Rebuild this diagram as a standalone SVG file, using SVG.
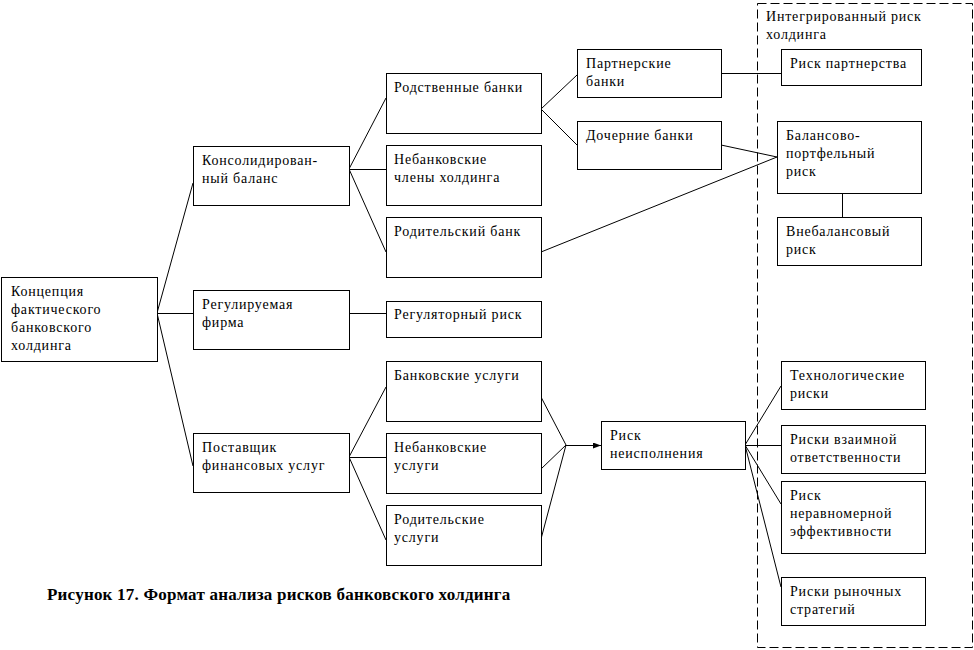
<svg xmlns="http://www.w3.org/2000/svg" width="974" height="650" viewBox="0 0 974 650">
<style>
rect.n{fill:#fff;stroke:#000;stroke-width:1}
text{font-family:"Liberation Serif","Times New Roman",serif;font-size:14px;fill:#000;letter-spacing:0.8px}
.c line,.c polyline{stroke:#000;stroke-width:1;fill:none}
.cap{font-weight:bold;font-size:17px;letter-spacing:0.22px}
</style>
<defs>
<marker id="ah" markerWidth="8" markerHeight="6" refX="8" refY="3" orient="auto" markerUnits="userSpaceOnUse">
<path d="M0,0 L8,3 L0,6 Z" fill="#000"/>
</marker>
</defs>
<rect width="974" height="650" fill="#fff"/>
<g id="group-integrated">
<rect x="757.5" y="3.5" width="215" height="644" fill="none" stroke="#000" stroke-width="1" stroke-dasharray="9,4"/>
<text x="766" y="21">Интегрированный риск</text>
<text x="766" y="39">холдинга</text>
</g>
<g class="c" id="connectors">
<line x1="157" y1="313" x2="193" y2="183"/>
<line x1="157" y1="313.5" x2="193" y2="313.5"/>
<line x1="157" y1="313" x2="193" y2="466"/>
<line x1="349" y1="169" x2="386" y2="98"/>
<line x1="349" y1="169.5" x2="386" y2="169.5"/>
<line x1="349" y1="169" x2="386" y2="252"/>
<line x1="541" y1="109" x2="577" y2="75"/>
<line x1="541" y1="109" x2="577" y2="145"/>
<line x1="721" y1="73.5" x2="781" y2="73.5"/>
<line x1="721" y1="145" x2="777" y2="157"/>
<line x1="541" y1="252" x2="777" y2="157"/>
<line x1="842.5" y1="193" x2="842.5" y2="217"/>
<line x1="349" y1="313.5" x2="386" y2="313.5"/>
<line x1="349" y1="457" x2="386" y2="387"/>
<line x1="349" y1="457.5" x2="386" y2="457.5"/>
<line x1="349" y1="457" x2="386" y2="540"/>
<line x1="541" y1="397" x2="566" y2="445"/>
<line x1="541" y1="469" x2="566" y2="445"/>
<line x1="541" y1="539" x2="566" y2="445"/>
<line x1="566" y1="445.5" x2="601" y2="445.5" marker-end="url(#ah)"/>
<line x1="745" y1="445" x2="781" y2="386"/>
<line x1="745" y1="445.5" x2="781" y2="445.5"/>
<line x1="745" y1="445" x2="781" y2="504"/>
<line x1="745" y1="445" x2="781" y2="587"/>
</g>
<g id="n-koncepciya">
<rect class="n" x="1.5" y="277.5" width="156" height="84"/>
<text x="11" y="296">Концепция</text>
<text x="11" y="314">фактического</text>
<text x="11" y="332">банковского</text>
<text x="11" y="350">холдинга</text>
</g>
<g id="n-konsol">
<rect class="n" x="193.5" y="146.5" width="156" height="59"/>
<text x="202" y="165">Консолидирован-</text>
<text x="202" y="183">ный баланс</text>
</g>
<g id="n-reg-firma">
<rect class="n" x="193.5" y="290.5" width="156" height="59"/>
<text x="202" y="309">Регулируемая</text>
<text x="202" y="327">фирма</text>
</g>
<g id="n-postavshik">
<rect class="n" x="193.5" y="433.5" width="156" height="59"/>
<text x="202" y="452">Поставщик</text>
<text x="202" y="470">финансовых услуг</text>
</g>
<g id="n-rodstv">
<rect class="n" x="386.5" y="73.5" width="155" height="60"/>
<text x="394" y="92">Родственные банки</text>
</g>
<g id="n-nebank-chleny">
<rect class="n" x="386.5" y="145.5" width="155" height="60"/>
<text x="394" y="164">Небанковские</text>
<text x="394" y="182">члены холдинга</text>
</g>
<g id="n-rod-bank">
<rect class="n" x="386.5" y="217.5" width="155" height="60"/>
<text x="394" y="236">Родительский банк</text>
</g>
<g id="n-reg-risk">
<rect class="n" x="386.5" y="301.5" width="155" height="36"/>
<text x="394" y="319">Регуляторный риск</text>
</g>
<g id="n-bank-uslugi">
<rect class="n" x="386.5" y="361.5" width="155" height="60"/>
<text x="394" y="380">Банковские услуги</text>
</g>
<g id="n-nebank-uslugi">
<rect class="n" x="386.5" y="433.5" width="155" height="60"/>
<text x="394" y="452">Небанковские</text>
<text x="394" y="470">услуги</text>
</g>
<g id="n-rod-uslugi">
<rect class="n" x="386.5" y="505.5" width="155" height="60"/>
<text x="394" y="524">Родительские</text>
<text x="394" y="542">услуги</text>
</g>
<g id="n-partner-banki">
<rect class="n" x="577.5" y="49.5" width="144" height="48"/>
<text x="586" y="68">Партнерские</text>
<text x="586" y="86">банки</text>
</g>
<g id="n-docher">
<rect class="n" x="577.5" y="121.5" width="144" height="48"/>
<text x="586" y="140">Дочерние банки</text>
</g>
<g id="n-risk-neisp">
<rect class="n" x="601.5" y="421.5" width="144" height="48"/>
<text x="610" y="440">Риск</text>
<text x="610" y="458">неисполнения</text>
</g>
<g id="n-risk-partn">
<rect class="n" x="781.5" y="49.5" width="140" height="36"/>
<text x="790" y="68">Риск партнерства</text>
</g>
<g id="n-balans">
<rect class="n" x="777.5" y="121.5" width="144" height="72"/>
<text x="786" y="140">Балансово-</text>
<text x="786" y="158">портфельный</text>
<text x="786" y="176">риск</text>
</g>
<g id="n-vnebalans">
<rect class="n" x="777.5" y="217.5" width="144" height="48"/>
<text x="786" y="236">Внебалансовый</text>
<text x="786" y="254">риск</text>
</g>
<g id="n-tehn">
<rect class="n" x="781.5" y="361.5" width="144" height="48"/>
<text x="790" y="380">Технологические</text>
<text x="790" y="398">риски</text>
</g>
<g id="n-vzaim">
<rect class="n" x="781.5" y="425.5" width="144" height="48"/>
<text x="790" y="444">Риски взаимной</text>
<text x="790" y="462">ответственности</text>
</g>
<g id="n-neravn">
<rect class="n" x="781.5" y="481.5" width="144" height="72"/>
<text x="790" y="500">Риск</text>
<text x="790" y="518">неравномерной</text>
<text x="790" y="536">эффективности</text>
</g>
<g id="n-rynoch">
<rect class="n" x="781.5" y="577.5" width="144" height="48"/>
<text x="790" y="596">Риски рыночных</text>
<text x="790" y="614">стратегий</text>
</g>
<text class="cap" x="47" y="600">Рисунок 17. Формат анализа рисков банковского холдинга</text>
</svg>
